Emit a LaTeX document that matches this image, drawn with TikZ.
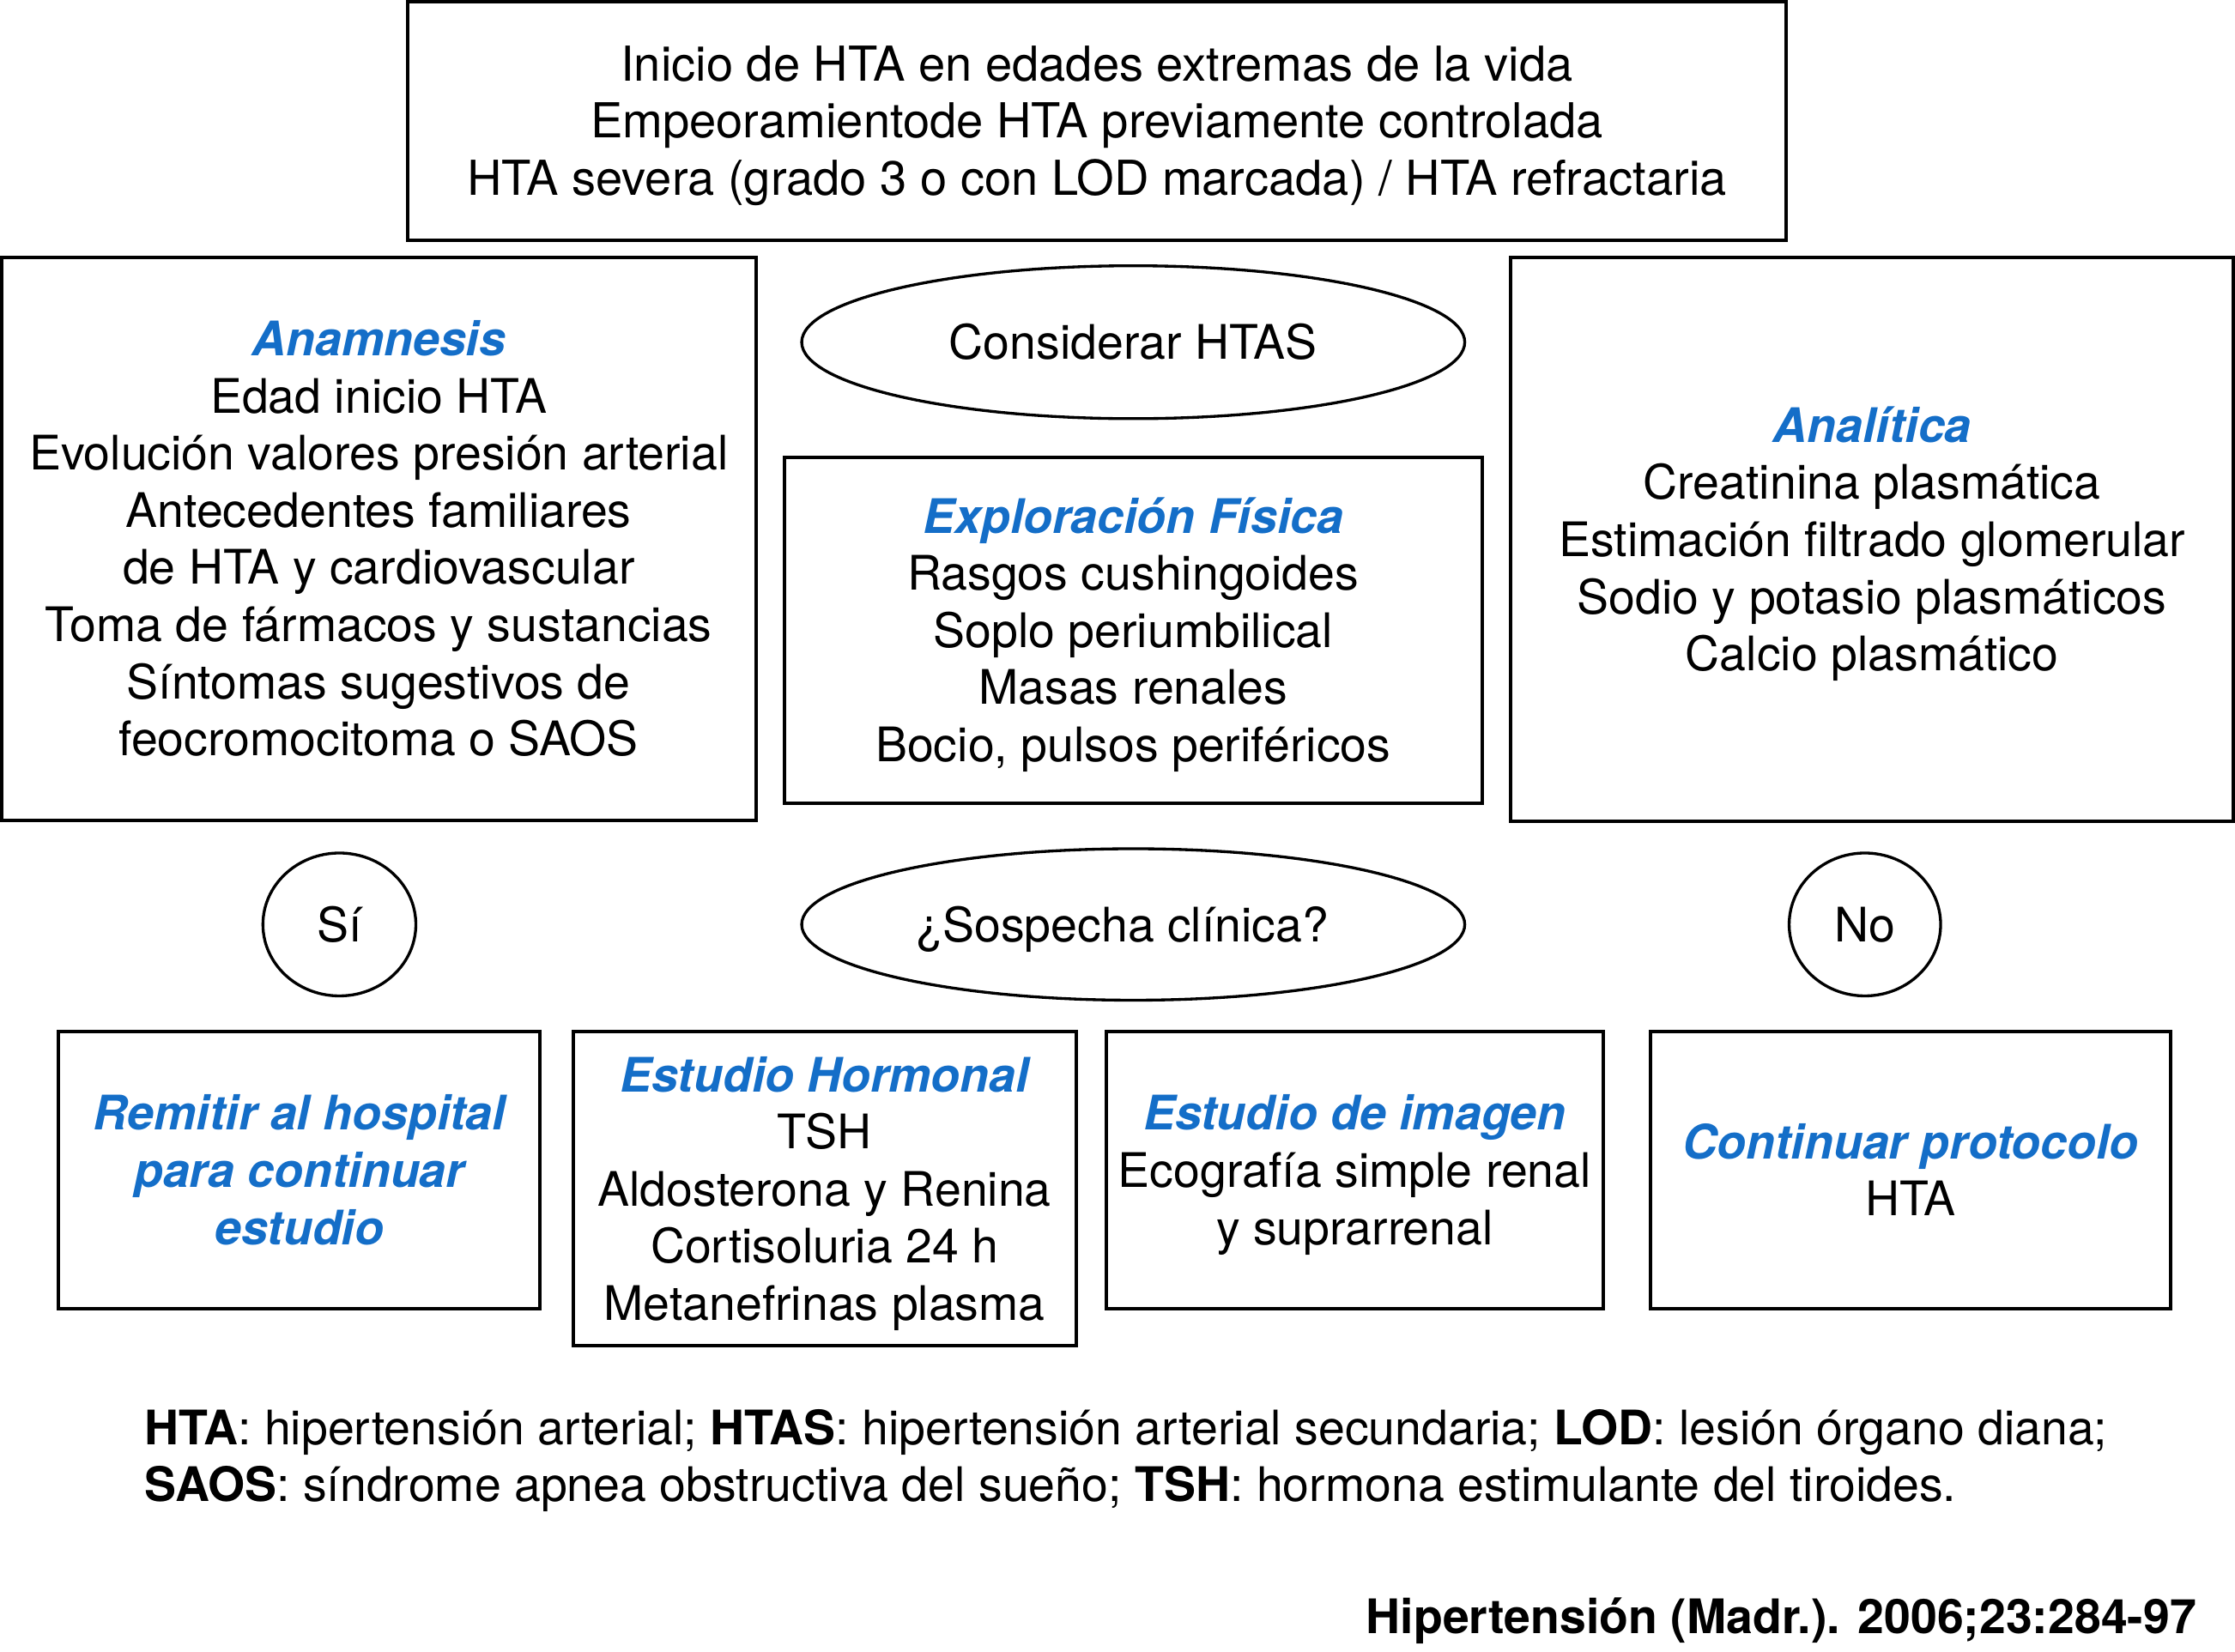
\documentclass[tikz,border=0pt]{standalone}
\usepackage{fontspec}
\setmainfont{TeX Gyre Heros}
\usetikzlibrary{shapes.geometric}
\definecolor{hblue}{RGB}{20,110,200}
\newcommand\ls{\rule[-8pt]{0pt}{40pt}}
\newcommand\ttl[1]{{\color{hblue}\bfseries\itshape #1}}
\begin{document}
\begin{tikzpicture}[x=1pt,y=-1pt,
  every node/.style={inner sep=0pt, outer sep=0pt, font=\fontsize{33.3}{40}\selectfont, align=center},
  box/.style={draw, line width=2.4pt, rectangle},
  oval/.style={draw, line width=2pt, ellipse},
]
\useasboundingbox (0,0) rectangle (1564,1155.6);
\node[box, minimum width=965pt, minimum height=167pt, font=\fontsize{33.7}{40}\selectfont] (top) at (767.5,84.5)
  {\ls Inicio de HTA en edades extremas de la vida\\
   \ls Empeoramientode HTA previamente controlada\\
   \ls HTA severa (grado 3 o con LOD marcada) / HTA refractaria};
\node[box, minimum width=528pt, minimum height=394pt] (anam) at (265,377)
  {\ls\ttl{Anamnesis}\\
   \ls Edad inicio HTA\\
   \ls Evolución valores presión arterial\\
   \ls Antecedentes familiares\\
   \ls de HTA y cardiovascular\\
   \ls Toma de fármacos y sustancias\\
   \ls Síntomas sugestivos de\\
   \ls feocromocitoma o SAOS};
\node[oval, minimum width=464pt, minimum height=107pt] (cons) at (793,239.5)
  {\ls Considerar HTAS};
\node[box, minimum width=488pt, minimum height=242pt] (expl) at (793,441)
  {\ls\ttl{Exploración Física}\\
   \ls Rasgos cushingoides\\
   \ls Soplo periumbilical\\
   \ls Masas renales\\
   \ls Bocio, pulsos periféricos};
\node[box, minimum width=506pt, minimum height=395pt] (anal) at (1310,377.5)
  {\ls\ttl{Analítica}\\
   \ls Creatinina plasmática\\
   \ls Estimación filtrado glomerular\\
   \ls Sodio y potasio plasmáticos\\
   \ls Calcio plasmático};
\node[oval, minimum width=107pt, minimum height=100pt] (si) at (237.5,647) {\ls Sí};
\node[oval, minimum width=464pt, minimum height=106pt] (sosp) at (793,647) {\ls ¿Sospecha clínica?\hspace*{15pt}};
\node[oval, minimum width=106pt, minimum height=100pt] (no) at (1305,647) {\ls No};
\node[box, minimum width=337pt, minimum height=194pt] (remit) at (209.5,819)
  {\ls\ttl{Remitir al hospital}\\
   \ls\ttl{para continuar}\\
   \ls\ttl{estudio}};
\node[box, minimum width=352pt, minimum height=220pt] (horm) at (577,832)
  {\ls\ttl{Estudio Hormonal}\\
   \ls TSH\\
   \ls Aldosterona y Renina\\
   \ls Cortisoluria 24 h\\
   \ls Metanefrinas plasma};
\node[box, minimum width=348pt, minimum height=194pt] (imag) at (948,819)
  {\ls\ttl{Estudio de imagen}\\
   \ls Ecografía simple renal\\
   \ls y suprarrenal};
\node[box, minimum width=364pt, minimum height=194pt] (cont) at (1337,819)
  {\ls\ttl{Continuar protocolo}\\
   \ls HTA};
\node[anchor=west, align=left] (fn) at (101,1019)
  {\ls\textbf{HTA}: hipertensión arterial; \textbf{HTAS}: hipertensión arterial secundaria; \textbf{LOD}: lesión órgano diana;\\
   \ls\textbf{SAOS}: síndrome apnea obstructiva del sueño; \textbf{TSH}: hormona estimulante del tiroides.};
\node[anchor=east] (ref) at (1537,1131) {\ls\bfseries Hipertensión (Madr.). 2006;23:284-97};
\end{tikzpicture}
\end{document}
